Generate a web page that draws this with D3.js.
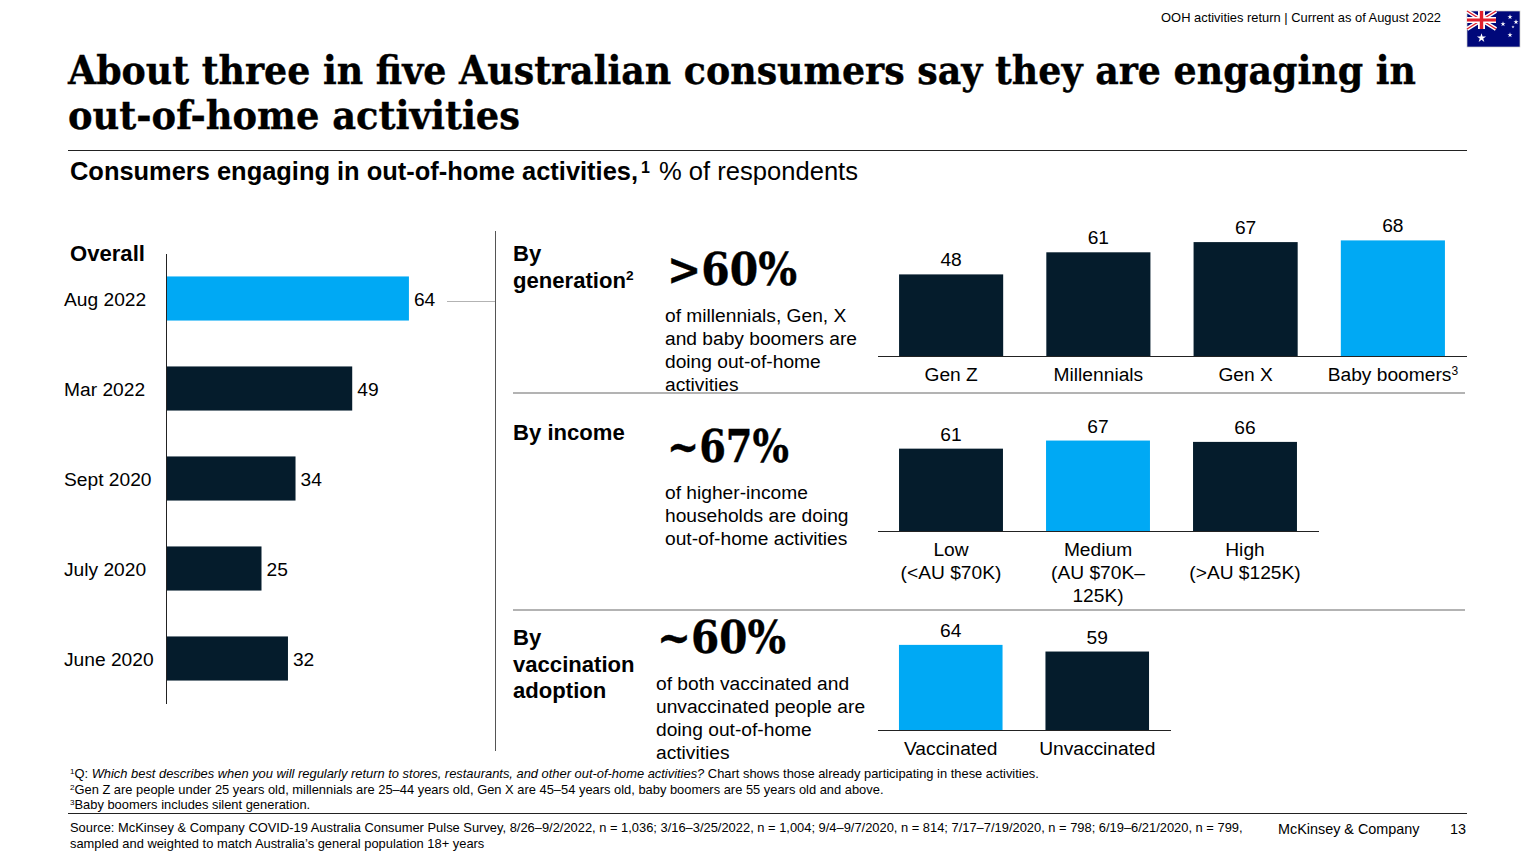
<!DOCTYPE html>
<html>
<head>
<meta charset="utf-8">
<script src="https://cdn.jsdelivr.net/npm/d3@7"></script>
<style>
  html, body { margin: 0; padding: 0; background: #fff; overflow: hidden; }
  text { font-family: "Liberation Sans", Arial, sans-serif; fill: #000; }
  .serif { font-family: "DejaVu Serif", serif; font-weight: 700; font-stretch: condensed; stroke: #000; stroke-width: 0.35; }
  line { shape-rendering: crispEdges; }
</style>
</head>
<body>
<svg id="mainFrame" width="1536" height="864"></svg>
<script>
// Chart data
const overallDates = ['Aug 2022', 'Mar 2022', 'Sept 2020', 'July 2020', 'June 2020'];
const overallValues = [64, 49, 34, 25, 32];
const generationNames = ['Gen Z', 'Millennials', 'Gen X', 'Baby boomers'];
const generationValues = [48, 61, 67, 68];
const incomeNames = ['Low|(<AU $70K)', 'Medium|(AU $70K–|125K)', 'High|(>AU $125K)'];
const incomeValues = [61, 67, 66];
const vaccinationNames = ['Vaccinated', 'Unvaccinated'];
const vaccinationValues = [64, 59];

const DARK = '#051c2c';
const BLUE = '#00a9f4';
const RULE = '#b3b3b3';
const BODY = 19.2;
const HEAD = 22.1;
const SMALL = 12.9;

const svg = d3.select('#mainFrame');

// Helper for plain text, one line per array entry
const addText = (lines, x, y, size, lineHeight, opts = {}) => {
    const t = svg.append('text')
        .attr('x', x).attr('y', y)
        .attr('font-size', size)
        .attr('font-weight', opts.weight || 400)
        .attr('text-anchor', opts.anchor || 'start');
    if (opts.cls) t.attr('class', opts.cls);
    lines.forEach((line, i) => {
        t.append('tspan').attr('x', x).attr('y', y + i * lineHeight).text(line);
    });
    return t;
};

const addSup = (textSel, txt, size) => {
    textSel.select('tspan:last-child').append('tspan')
        .attr('dy', -size * 0.38).attr('font-size', size * 0.62).text(txt);
};

const addLine = (x1, y1, x2, y2, color, width = 1) => svg.append('line')
    .attr('x1', x1).attr('y1', y1).attr('x2', x2).attr('y2', y2)
    .attr('stroke', color).attr('stroke-width', width);

// Header
addText(['OOH activities return | Current as of August 2022'], 1441, 22, SMALL, 0, {anchor: 'end'});
addText(['About three in five Australian consumers say they are engaging in'], 68, 84, 40, 0, {cls: 'serif'})
    .attr('textLength', 1348).attr('lengthAdjust', 'spacingAndGlyphs');
addText(['out-of-home activities'], 68, 129, 40, 0, {cls: 'serif'})
    .attr('textLength', 452).attr('lengthAdjust', 'spacingAndGlyphs');
addLine(68, 150, 1467, 150, '#222');

addText(['Consumers engaging in out-of-home activities,'], 70, 180, 25, 0, {weight: 700})
    .attr('textLength', 568).attr('lengthAdjust', 'spacingAndGlyphs');
svg.append('text').attr('x', 641).attr('y', 173).attr('font-size', 16).attr('font-weight', 700).text('1');
addText(['% of respondents'], 659, 180, 25, 0).attr('textLength', 199).attr('lengthAdjust', 'spacingAndGlyphs');

// Flag
const flag = svg.append('g').attr('transform', 'translate(1467,11)');
flag.append('rect').attr('width', 53).attr('height', 36).attr('fill', '#00087a').attr('stroke', '#ccc').attr('stroke-width', 0.7);
const jack = [[0, 0, 29, 18], [0, 18, 29, 0]];
jack.forEach(d => flag.append('line').attr('x1', d[0]).attr('y1', d[1]).attr('x2', d[2]).attr('y2', d[3]).attr('stroke', '#fff').attr('stroke-width', 4).style('shape-rendering', 'auto'));
jack.forEach(d => flag.append('line').attr('x1', d[0]).attr('y1', d[1]).attr('x2', d[2]).attr('y2', d[3]).attr('stroke', '#e0202c').attr('stroke-width', 1.4).style('shape-rendering', 'auto'));
flag.append('rect').attr('x', 0).attr('y', 6).attr('width', 29).attr('height', 6).attr('fill', '#fff');
flag.append('rect').attr('x', 11).attr('y', 0).attr('width', 7).attr('height', 18).attr('fill', '#fff');
flag.append('rect').attr('x', 0).attr('y', 7.5).attr('width', 29).attr('height', 3).attr('fill', '#e0202c');
flag.append('rect').attr('x', 12.8).attr('y', 0).attr('width', 3.4).attr('height', 18).attr('fill', '#e0202c');
const star = d3.symbol().type(d3.symbolStar);
flag.append('path').attr('d', star.size(26)()).attr('transform', 'translate(14.5,27)').attr('fill', '#fff');
[[43, 6, 8], [36, 13, 8], [49, 11, 8], [46, 16, 3], [43, 24, 8]].forEach(s => {
    flag.append('path').attr('d', star.size(s[2])()).attr('transform', `translate(${s[0]},${s[1]})`).attr('fill', '#fff');
});

// Overall panel, horizontal bars
addText(['Overall'], 70, 261, HEAD, 0, {weight: 700});
const overallY = d3.scaleBand().domain(overallDates).range([253.5, 703.5]).paddingInner(0.51).paddingOuter(0.255);
const overallX = d3.scaleLinear().domain([0, 100]).range([167, 545]);
const overallGroup = svg.append('g');
overallGroup.selectAll('rect').data(overallValues).join('rect')
    .attr('x', overallX(0))
    .attr('y', (d, i) => overallY(overallDates[i]))
    .attr('width', d => overallX(d) - overallX(0))
    .attr('height', overallY.bandwidth())
    .attr('fill', (d, i) => i === 0 ? BLUE : DARK);
overallGroup.selectAll('text').data(overallValues).join('text')
    .attr('x', d => overallX(d) + 5)
    .attr('y', (d, i) => overallY(overallDates[i]) + overallY.bandwidth() / 2 + 7)
    .attr('font-size', BODY)
    .text(d => d);
const overallAxis = svg.append('g')
    .attr('transform', `translate(${overallX(0) - 1},0)`)
    .call(d3.axisLeft(overallY).tickSize(0).tickPadding(0));
overallAxis.select('.domain').attr('stroke', '#222');
overallAxis.selectAll('text')
    .attr('text-anchor', 'start')
    .attr('x', -102)
    .attr('y', 1.5)
    .attr('font-size', BODY)
    .attr('font-family', '"Liberation Sans", Arial, sans-serif')
    .attr('dy', '0.32em');

// Dividers
addLine(447, 301, 495, 301, RULE);
addLine(495, 231, 495, 751, '#555');
addLine(513, 393, 1465, 393, RULE, 1.5);
addLine(513, 610, 1465, 610, RULE, 1.5);

// Small vertical bar panel
const drawPanel = (names, values, baseline, pxPerUnit, x0, x1, innerPad, hi, labelY) => {
    const x = d3.scaleBand().domain(names).range([x0, x1]).paddingInner(innerPad).paddingOuter(innerPad / 2);
    const y = d3.scaleLinear().domain([0, 100]).range([baseline, baseline - 100 * pxPerUnit]);
    const g = svg.append('g');
    g.selectAll('rect').data(values).join('rect')
        .attr('x', (d, i) => x(names[i]))
        .attr('y', d => y(d))
        .attr('width', x.bandwidth())
        .attr('height', d => baseline - y(d))
        .attr('fill', (d, i) => i === hi ? BLUE : DARK);
    g.selectAll('text').data(values).join('text')
        .attr('x', (d, i) => x(names[i]) + x.bandwidth() / 2)
        .attr('y', d => y(d) - 8)
        .attr('text-anchor', 'middle')
        .attr('font-size', BODY)
        .text(d => d);
    const axis = svg.append('g')
        .attr('transform', `translate(0,${baseline})`)
        .call(d3.axisBottom(x).tickSize(0).tickFormat(''));
    axis.select('.domain').attr('stroke', '#222');
    axis.selectAll('.tick text').remove();
    axis.selectAll('.tick').each(function (name) {
        const label = d3.select(this).append('text')
            .attr('text-anchor', 'middle').attr('font-size', BODY).attr('y', labelY)
            .attr('font-family', '"Liberation Sans", Arial, sans-serif');
        name.split('|').forEach((line, i) => {
            label.append('tspan').attr('x', 0).attr('y', labelY + i * 23).text(line);
        });
    });
    return axis;
};

const genAxis = drawPanel(generationNames, generationValues, 356, 1.7, 877.5, 1466.5, 0.293, 3, 25);
genAxis.selectAll('.tick').filter(d => d === 'Baby boomers').select('text')
    .select('tspan').append('tspan').attr('dy', -6).attr('font-size', 12).text('3');
drawPanel(incomeNames, incomeValues, 531, 1.35, 877.5, 1318.5, 0.293, 1, 25);
drawPanel(vaccinationNames, vaccinationValues, 730, 1.33, 877.5, 1170.5, 0.293, 0, 25);

// Section heads and callouts
const byGen = addText(['By', 'generation'], 513, 261, HEAD, 27, {weight: 700});
addSup(byGen, '2', HEAD);
addText(['By income'], 513, 440, HEAD, 0, {weight: 700});
addText(['By', 'vaccination', 'adoption'], 513, 645, HEAD, 26.5, {weight: 700});

addText(['>60%'], 667, 285, 44, 0, {cls: 'serif'}).attr('textLength', 130).attr('lengthAdjust', 'spacingAndGlyphs');
addText(['~67%'], 667, 462, 44, 0, {cls: 'serif'}).attr('textLength', 122).attr('lengthAdjust', 'spacingAndGlyphs');
addText(['~60%'], 657, 653, 44, 0, {cls: 'serif'}).attr('textLength', 129).attr('lengthAdjust', 'spacingAndGlyphs');

addText(['of millennials, Gen, X', 'and baby boomers are', 'doing out-of-home', 'activities'], 665, 322, BODY, 23);
addText(['of higher-income', 'households are doing', 'out-of-home activities'], 665, 499, BODY, 23);
addText(['of both vaccinated and', 'unvaccinated people are', 'doing out-of-home', 'activities'], 656, 690, BODY, 23);

// Footnotes
const fn1 = svg.append('text').attr('x', 70).attr('y', 778).attr('font-size', SMALL);
fn1.append('tspan').attr('dy', -4).attr('font-size', 8).text('1');
fn1.append('tspan').attr('dy', 4).text('Q: ');
fn1.append('tspan').attr('font-style', 'italic').text('Which best describes when you will regularly return to stores, restaurants, and other out-of-home activities?');
fn1.append('tspan').text(' Chart shows those already participating in these activities.');
const fn2 = svg.append('text').attr('x', 70).attr('y', 794).attr('font-size', SMALL);
fn2.append('tspan').attr('dy', -4).attr('font-size', 8).text('2');
fn2.append('tspan').attr('dy', 4).text('Gen Z are people under 25 years old, millennials are 25–44 years old, Gen X are 45–54 years old, baby boomers are 55 years old and above.');
const fn3 = svg.append('text').attr('x', 70).attr('y', 809).attr('font-size', SMALL);
fn3.append('tspan').attr('dy', -4).attr('font-size', 8).text('3');
fn3.append('tspan').attr('dy', 4).text('Baby boomers includes silent generation.');

addLine(68, 813, 1467, 813, '#222');
addText(['Source: McKinsey & Company COVID-19 Australia Consumer Pulse Survey, 8/26–9/2/2022, n = 1,036; 3/16–3/25/2022, n = 1,004; 9/4–9/7/2020, n = 814; 7/17–7/19/2020, n = 798; 6/19–6/21/2020, n = 799,',
    'sampled and weighted to match Australia’s general population 18+ years'], 70, 832, SMALL, 16);
addText(['McKinsey & Company'], 1278, 834, 14.4, 0);
addText(['13'], 1466, 834, 14.4, 0, {anchor: 'end'});
</script>
</body>
</html>
